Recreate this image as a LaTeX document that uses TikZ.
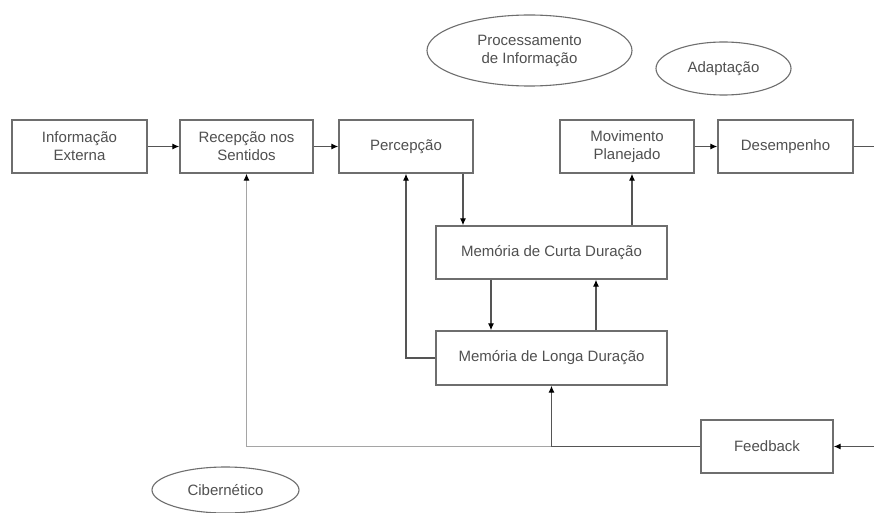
\documentclass[tikz,border=0pt]{standalone}
\usepackage{fontspec}
\setmainfont{Liberation Sans}
\usetikzlibrary{arrows.meta,shapes.geometric}
\definecolor{lc}{RGB}{85,85,85}
\definecolor{bc}{RGB}{110,110,110}
\definecolor{tc}{RGB}{80,80,80}
\definecolor{lgc}{RGB}{165,165,165}
\begin{document}
\begin{tikzpicture}[x=1pt,y=-1pt,
  every node/.style={font=\fontsize{15}{18}\selectfont, text=tc, align=center, inner sep=0pt},
  boxnode/.style={draw=bc, line width=1.3pt, rectangle},
  ellnode/.style={draw=bc, line width=1.1pt, ellipse},
  conn/.style={draw=lc, line width=1.2pt, -{Latex[length=7pt,width=6pt,color=black]}},
  plainline/.style={draw=lc, line width=1.2pt},
  lightconn/.style={draw=lgc, line width=1.2pt, -{Latex[length=7pt,width=6pt,color=black]}}]
\useasboundingbox (0,0) rectangle (874,513);
\fill[white] (0,0) rectangle (874,513);
% boxes
\node[boxnode, minimum width=135pt, minimum height=53pt] (ie) at (79.5,146.5) {Informação\\Externa};
\node[boxnode, minimum width=133pt, minimum height=53pt] (rs) at (246.5,146.5) {Recepção nos\\Sentidos};
\node[boxnode, minimum width=134pt, minimum height=53pt] (pc) at (406,146.5) {Percepção};
\node[boxnode, minimum width=134pt, minimum height=53pt] (mp) at (627,146.5) {Movimento\\Planejado};
\node[boxnode, minimum width=135pt, minimum height=53pt] (ds) at (785.5,146.5) {Desempenho};
\node[boxnode, minimum width=231pt, minimum height=53pt] (mc) at (551.5,252.5) {Memória de Curta Duração};
\node[boxnode, minimum width=231pt, minimum height=54pt] (ml) at (551.5,358) {Memória de Longa Duração};
\node[boxnode, minimum width=132pt, minimum height=53pt] (fb) at (767,446.5) {Feedback};
% ellipses
\node[ellnode, minimum width=205pt, minimum height=71pt] (pi) at (529.5,50.5) {Processamento\\de Informação};
\node[ellnode, minimum width=135pt, minimum height=53pt] (ad) at (723.5,68.5) {Adaptação};
\node[ellnode, minimum width=147pt, minimum height=46pt] (cb) at (225.5,490) {Cibernético};
% border coordinates
\coordinate (rt) at (874,146.5);
\coordinate (rb) at (874,446.5);
% connectors
\draw[conn] (ie.east) -- (rs.west);
\draw[conn] (rs.east) -- (pc.west);
\draw[conn] (mp.east) -- (ds.west);
\draw[plainline] (ds.east) -- (rt);
\draw[conn] (rb) -- (fb.east);
\draw[conn] ([xshift=57pt]pc.south) -- ([xshift=57pt]pc.south |- mc.north);
\draw[conn] ([xshift=5pt]mp.south |- mc.north) -- ([xshift=5pt]mp.south);
\draw[conn] ([xshift=-60.5pt]mc.south) -- ([xshift=-60.5pt]mc.south |- ml.north);
\draw[conn] ([xshift=44.5pt]ml.north) -- ([xshift=44.5pt]ml.north |- mc.south);
\draw[conn] (ml.west) -| (pc.south);
\draw[lightconn] (fb.west) -| (rs.south);
\draw[conn] (fb.west) -| (ml.south);
\end{tikzpicture}
\end{document}
